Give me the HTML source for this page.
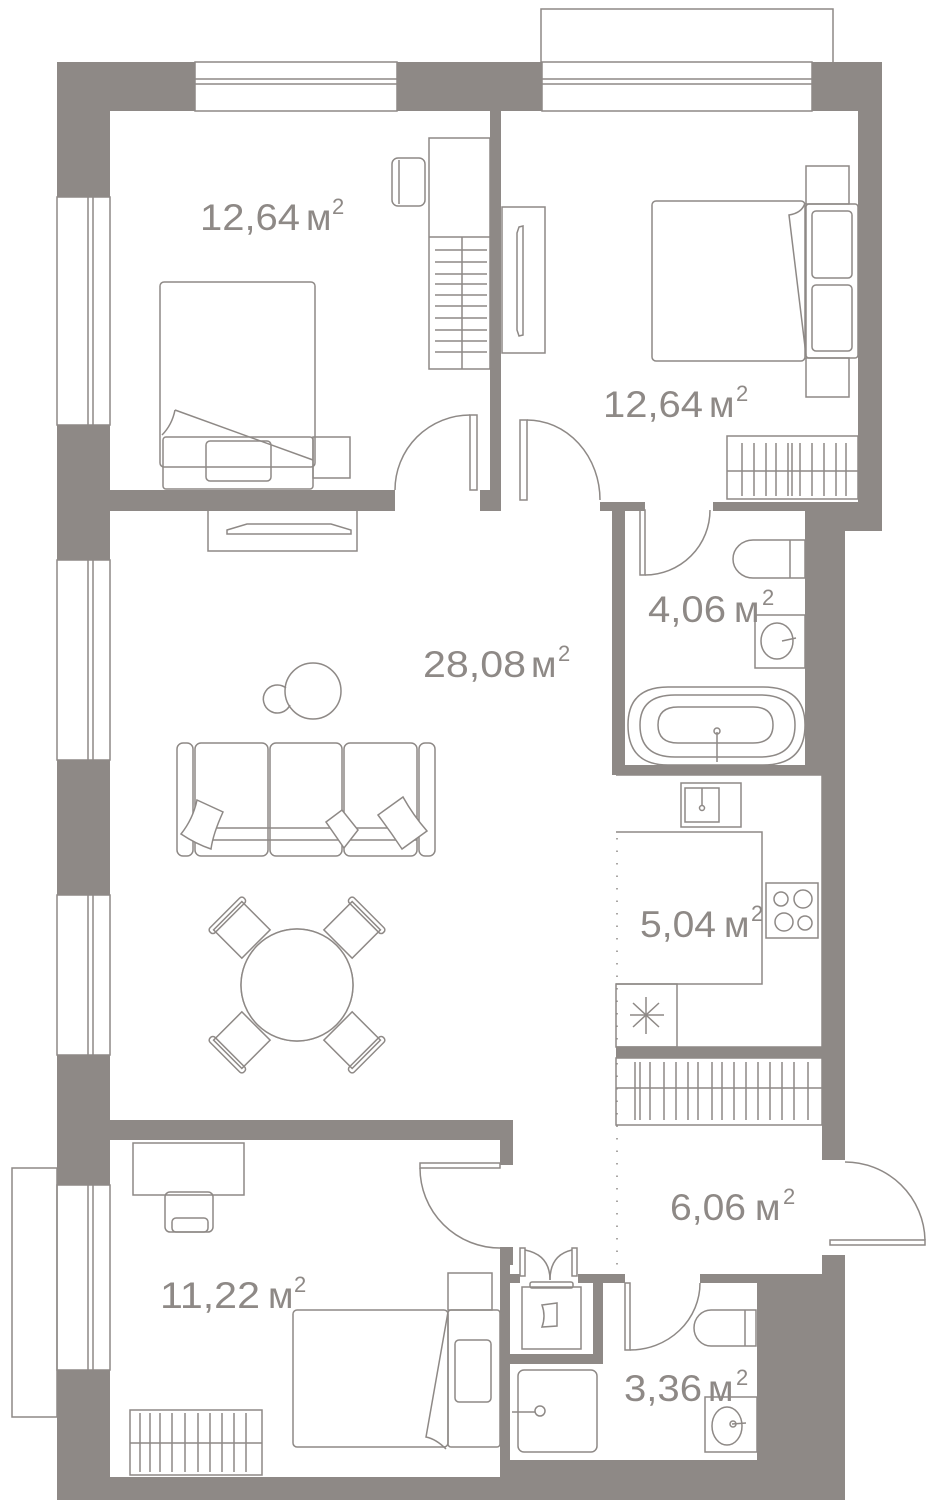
<!DOCTYPE html>
<html><head><meta charset="utf-8"><style>
html,body{margin:0;padding:0;background:#fff;}
svg{display:block;}
text{font-family:"Liberation Sans",sans-serif;fill:#8e8986;}
</style></head><body>
<svg width="941" height="1500" viewBox="0 0 941 1500" xmlns="http://www.w3.org/2000/svg">
<g fill="#8e8986" stroke="none">
<rect x="57" y="62" width="138" height="49"/>
<rect x="397" y="62" width="145" height="49"/>
<rect x="812" y="62" width="70" height="49"/>
<rect x="57" y="62" width="53" height="135"/>
<rect x="57" y="425" width="53" height="135"/>
<rect x="57" y="760" width="53" height="135"/>
<rect x="57" y="1055" width="53" height="130"/>
<rect x="57" y="1370" width="53" height="130"/>
<rect x="858" y="62" width="24" height="469"/>
<rect x="805" y="503" width="77" height="28"/>
<rect x="805" y="511" width="40" height="264"/>
<rect x="822" y="745" width="23" height="415"/>
<rect x="822" y="1255" width="23" height="245"/>
<rect x="757" y="1274" width="88" height="226"/>
<rect x="57" y="1477" width="788" height="23"/>
<rect x="500" y="1460" width="257" height="20"/>
<rect x="490" y="111" width="11" height="400"/>
<rect x="110" y="490" width="285" height="21"/>
<rect x="480" y="490" width="20" height="21"/>
<rect x="600" y="502" width="45" height="9"/>
<rect x="713" y="502" width="150" height="9"/>
<rect x="612" y="503" width="13" height="272"/>
<rect x="612" y="765" width="193" height="10"/>
<rect x="616" y="1047" width="206" height="11"/>
<rect x="110" y="1120" width="403" height="20"/>
<rect x="500" y="1120" width="13" height="45"/>
<rect x="500" y="1247" width="10" height="233"/>
<rect x="500" y="1247" width="13" height="18"/>
<rect x="510" y="1274" width="10" height="9"/>
<rect x="578" y="1274" width="47" height="9"/>
<rect x="700" y="1274" width="57" height="9"/>
<rect x="593" y="1283" width="10" height="81"/>
<rect x="510" y="1354" width="93" height="10"/>
</g>
<g fill="none" stroke="#8e8986" stroke-width="1.5">
<rect x="195" y="62" width="202" height="49"/><line x1="195" y1="79" x2="397" y2="79"/><line x1="195" y1="84" x2="397" y2="84"/>
<rect x="542" y="62" width="270" height="49"/><line x1="542" y1="79" x2="812" y2="79"/><line x1="542" y1="84" x2="812" y2="84"/>
<polyline points="541,62 541,9 833,9 833,62"/>
<g>
<rect x="57" y="197" width="53" height="228"/><line x1="88" y1="197" x2="88" y2="425"/><line x1="93" y1="197" x2="93" y2="425"/>
<rect x="57" y="560" width="53" height="200"/><line x1="88" y1="560" x2="88" y2="760"/><line x1="93" y1="560" x2="93" y2="760"/>
<rect x="57" y="895" width="53" height="160"/><line x1="88" y1="895" x2="88" y2="1055"/><line x1="93" y1="895" x2="93" y2="1055"/>
<rect x="57" y="1185" width="53" height="185"/><line x1="88" y1="1185" x2="88" y2="1370"/><line x1="93" y1="1185" x2="93" y2="1370"/>
</g>
<rect x="12" y="1168" width="45" height="249"/>
<rect x="429" y="138" width="61" height="231"/>
<line x1="429" y1="237" x2="490" y2="237"/><line x1="462" y1="237" x2="462" y2="369"/>
<g><line x1="435" y1="250" x2="487" y2="250"/><line x1="435" y1="262" x2="487" y2="262"/><line x1="435" y1="274" x2="487" y2="274"/><line x1="435" y1="284" x2="487" y2="284"/><line x1="435" y1="295" x2="487" y2="295"/><line x1="435" y1="306" x2="487" y2="306"/><line x1="435" y1="318" x2="487" y2="318"/><line x1="435" y1="330" x2="487" y2="330"/><line x1="435" y1="341" x2="487" y2="341"/><line x1="435" y1="352" x2="487" y2="352"/></g>
<rect x="392" y="158" width="33" height="48" rx="6"/><line x1="399" y1="160" x2="399" y2="204"/>
<rect x="160" y="282" width="155" height="185" rx="4"/>
<polyline points="175,410 313,460"/><path d="M175,410 q-3,15 -13,25"/>
<rect x="163" y="437" width="150" height="52" rx="3"/>
<rect x="206" y="441" width="65" height="40" rx="4"/>
<rect x="313" y="437" width="37" height="41"/>
<rect x="502" y="207" width="43" height="146"/>
<path d="M519,227 l4,-1 l0,109 l-4,1 l-2,-6 l0,-97 z"/>
<rect x="652" y="201" width="153" height="160" rx="4"/>
<path d="M805,203 q-3,10 -16,12 l17,140"/>
<rect x="806" y="204" width="52" height="154" rx="3"/>
<rect x="812" y="211" width="40" height="67" rx="4"/>
<rect x="812" y="285" width="40" height="66" rx="4"/>
<rect x="806" y="166" width="43" height="38"/><rect x="806" y="358" width="43" height="39"/>
<rect x="727" y="436" width="131" height="63"/><line x1="727" y1="471" x2="858" y2="471"/>
<g><line x1="742" y1="443" x2="742" y2="496"/><line x1="754" y1="443" x2="754" y2="496"/><line x1="766" y1="443" x2="766" y2="496"/><line x1="776" y1="443" x2="776" y2="496"/><line x1="788" y1="443" x2="788" y2="496"/><line x1="792" y1="443" x2="792" y2="496"/><line x1="800" y1="443" x2="800" y2="496"/><line x1="812" y1="443" x2="812" y2="496"/><line x1="824" y1="443" x2="824" y2="496"/><line x1="836" y1="443" x2="836" y2="496"/><line x1="846" y1="443" x2="846" y2="496"/></g>
<rect x="470" y="415" width="7" height="75"/><path d="M395,490 A75,75 0 0 1 470,415"/>
<rect x="520" y="420" width="7" height="80"/><path d="M527,420 A73,80 0 0 1 600,500"/>
<rect x="640" y="510" width="5" height="65"/><path d="M645,575 A65,65 0 0 0 710,510"/>
<rect x="420" y="1163" width="80" height="5"/><path d="M420,1168 A80,80 0 0 0 500,1248"/>
<rect x="830" y="1240" width="95" height="5"/><path d="M925,1240 A80,80 0 0 0 845,1162"/>
<rect x="625" y="1283" width="5" height="67"/><path d="M630,1350 A70,67 0 0 0 700,1283"/>
<rect x="520" y="1248" width="5" height="28"/><path d="M525,1250 q25,5 25,30"/>
<rect x="572" y="1248" width="5" height="28"/><path d="M572,1250 q-22,5 -22,30"/>
<path d="M805,540 l-52,0 a20,19 0 0 0 0,38 l52,0 z"/><line x1="790" y1="540" x2="790" y2="578"/>
<rect x="755" y="615" width="50" height="53"/><ellipse cx="777" cy="641" rx="16" ry="18"/><line x1="782" y1="641" x2="796" y2="638"/>
<path d="M628,725 q0,-38 40,-38 l95,0 q42,0 42,38 q0,40 -42,40 l-95,0 q-40,0 -40,-40 z"/>
<path d="M640,725 q0,-30 35,-30 l85,0 q35,0 35,30 q0,32 -35,32 l-85,0 q-35,0 -35,-32 z"/>
<path d="M658,725 q0,-18 20,-18 l75,0 q20,0 20,18 q0,18 -20,18 l-75,0 q-20,0 -20,-18 z"/>
<line x1="717" y1="732" x2="717" y2="762"/><circle cx="717" cy="731" r="3"/>
<polyline points="616,775 822,775 822,1047 616,1047"/>
<polyline points="616,832 762,832 762,984 616,984"/>
<rect x="681" y="783" width="60" height="44"/><rect x="685" y="788" width="34" height="34"/>
<line x1="702" y1="788" x2="702" y2="805"/><circle cx="702" cy="808" r="2.5"/>
<rect x="766" y="883" width="52" height="55"/>
<circle cx="781" cy="899" r="7"/><circle cx="803" cy="899" r="9"/><circle cx="784" cy="922" r="9"/><circle cx="805" cy="923" r="7"/>
<rect x="616" y="984" width="61" height="63"/>
<g><line x1="646" y1="997" x2="646" y2="1034"/><line x1="630" y1="1015" x2="664" y2="1015"/><line x1="633" y1="1003" x2="659" y2="1027"/><line x1="659" y1="1003" x2="633" y2="1027"/></g>
<rect x="616" y="1058" width="206" height="67"/><line x1="616" y1="1088" x2="822" y2="1088"/>
<g><line x1="635" y1="1062" x2="635" y2="1120"/><line x1="640" y1="1062" x2="640" y2="1120"/><line x1="650" y1="1062" x2="650" y2="1120"/><line x1="664" y1="1062" x2="664" y2="1120"/><line x1="676" y1="1062" x2="676" y2="1120"/><line x1="688" y1="1062" x2="688" y2="1120"/><line x1="698" y1="1062" x2="698" y2="1120"/><line x1="712" y1="1062" x2="712" y2="1120"/><line x1="722" y1="1062" x2="722" y2="1120"/><line x1="734" y1="1062" x2="734" y2="1120"/><line x1="746" y1="1062" x2="746" y2="1120"/><line x1="758" y1="1062" x2="758" y2="1120"/><line x1="770" y1="1062" x2="770" y2="1120"/><line x1="782" y1="1062" x2="782" y2="1120"/><line x1="794" y1="1062" x2="794" y2="1120"/><line x1="808" y1="1062" x2="808" y2="1120"/></g>
<line x1="617" y1="838" x2="617" y2="1280" stroke-dasharray="1.5,11"/>
<rect x="208" y="510" width="149" height="41"/>
<path d="M227,530 l20,-6 l84,0 l20,6 l0,4 l-124,0 z"/>
<circle cx="313" cy="691" r="28"/><path d="M290,705 a14,14 0 1 1 -4,-17"/>
<rect x="177" y="743" width="16" height="113" rx="6"/><rect x="419" y="743" width="16" height="113" rx="6"/>
<rect x="195" y="743" width="73" height="113" rx="6"/><rect x="270" y="743" width="72" height="113" rx="6"/><rect x="344" y="743" width="73" height="113" rx="6"/>
<line x1="195" y1="828" x2="417" y2="828"/><line x1="195" y1="840" x2="417" y2="840"/>
<path d="M197,800 l26,12 q-10,22 -12,37 q-15,-5 -30,-15 q12,-15 16,-34z" fill="#fff"/>
<path d="M326,822 l16,-12 l16,20 l-14,18 z" fill="#fff"/>
<path d="M378,815 l25,-18 q10,18 24,34 l-25,18 q-12,-18 -24,-34z" fill="#fff"/>
<circle cx="297" cy="985" r="56"/>
<g transform="translate(297,985)">
<g transform="rotate(-45)"><rect x="-20" y="-98" width="40" height="40"/><rect x="-24" y="-102" width="48" height="7" rx="3"/></g>
<g transform="rotate(45)"><rect x="-20" y="-98" width="40" height="40"/><rect x="-24" y="-102" width="48" height="7" rx="3"/></g>
<g transform="rotate(135)"><rect x="-20" y="-98" width="40" height="40"/><rect x="-24" y="-102" width="48" height="7" rx="3"/></g>
<g transform="rotate(225)"><rect x="-20" y="-98" width="40" height="40"/><rect x="-24" y="-102" width="48" height="7" rx="3"/></g>
</g>
<circle cx="297" cy="985" r="56" fill="#fff"/>
<rect x="133" y="1143" width="111" height="52"/>
<rect x="165" y="1192" width="48" height="40" rx="5"/><rect x="172" y="1218" width="36" height="14" rx="4"/>
<rect x="130" y="1410" width="132" height="65"/><line x1="130" y1="1443" x2="262" y2="1443"/>
<g><line x1="140" y1="1413" x2="140" y2="1472"/><line x1="150" y1="1413" x2="150" y2="1472"/><line x1="160" y1="1413" x2="160" y2="1472"/><line x1="172" y1="1413" x2="172" y2="1472"/><line x1="185" y1="1413" x2="185" y2="1472"/><line x1="198" y1="1413" x2="198" y2="1472"/><line x1="210" y1="1413" x2="210" y2="1472"/><line x1="222" y1="1413" x2="222" y2="1472"/><line x1="234" y1="1413" x2="234" y2="1472"/><line x1="246" y1="1413" x2="246" y2="1472"/></g>
<rect x="448" y="1273" width="44" height="37"/>
<rect x="293" y="1310" width="155" height="137" rx="4"/>
<path d="M448,1312 l-22,125 q10,2 20,12"/>
<rect x="448" y="1310" width="52" height="137" rx="3"/>
<rect x="455" y="1340" width="36" height="62" rx="4"/>
<rect x="522" y="1287" width="59" height="62"/><rect x="530" y="1282" width="43" height="6" rx="2"/>
<path d="M542,1305 l15,-2 l0,23 l-15,1 q4,-11 0,-22z"/>
<rect x="518" y="1370" width="79" height="82" rx="6"/>
<line x1="512" y1="1412" x2="535" y2="1412"/><circle cx="540" cy="1411" r="5"/>
<path d="M756,1310 l-45,0 a17,18 0 0 0 0,36 l45,0 z"/><line x1="745" y1="1310" x2="745" y2="1346"/>
<rect x="705" y="1397" width="52" height="55"/><ellipse cx="727" cy="1426" rx="15" ry="19"/><line x1="732" y1="1424" x2="746" y2="1423"/><circle cx="733" cy="1424" r="3"/>
</g>
<text x="200" y="230" font-size="37" textLength="100" lengthAdjust="spacingAndGlyphs">12,64</text><text x="306" y="230" font-size="37">м</text><text x="332" y="214" font-size="22">2</text>
<text x="603" y="417" font-size="37" textLength="100" lengthAdjust="spacingAndGlyphs">12,64</text><text x="709" y="417" font-size="37">м</text><text x="736" y="401" font-size="22">2</text>
<text x="423" y="677" font-size="37" textLength="103" lengthAdjust="spacingAndGlyphs">28,08</text><text x="531" y="677" font-size="37">м</text><text x="558" y="661" font-size="22">2</text>
<text x="648" y="622" font-size="37" textLength="78" lengthAdjust="spacingAndGlyphs">4,06</text><text x="734" y="622" font-size="37">м</text><text x="762" y="605" font-size="22">2</text>
<text x="640" y="937" font-size="37" textLength="76" lengthAdjust="spacingAndGlyphs">5,04</text><text x="724" y="937" font-size="37">м</text><text x="751" y="921" font-size="22">2</text>
<text x="670" y="1220" font-size="37" textLength="76" lengthAdjust="spacingAndGlyphs">6,06</text><text x="755" y="1220" font-size="37">м</text><text x="783" y="1204" font-size="22">2</text>
<text x="160" y="1308" font-size="37" textLength="100" lengthAdjust="spacingAndGlyphs">11,22</text><text x="268" y="1308" font-size="37">м</text><text x="294" y="1292" font-size="22">2</text>
<text x="624" y="1401" font-size="37" textLength="78" lengthAdjust="spacingAndGlyphs">3,36</text><text x="708" y="1401" font-size="37">м</text><text x="736" y="1385" font-size="22">2</text>
</svg>
</body></html>
